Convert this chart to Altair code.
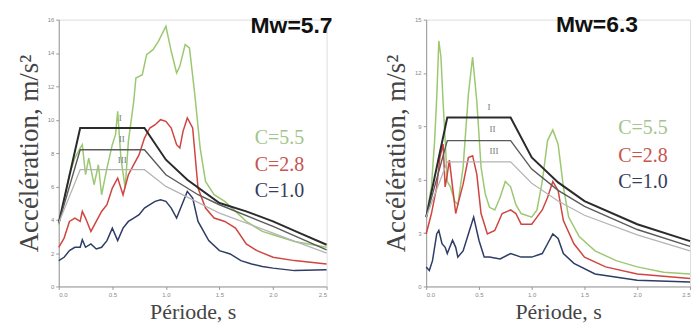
import altair as alt
import pandas as pd

# ---------------- Data: Mw = 5.7 (left panel) ----------------
L_green_T = [0, 0.1, 0.15, 0.2, 0.22, 0.25, 0.28, 0.33, 0.37, 0.4, 0.45, 0.5, 0.53, 0.55, 0.58, 0.62, 0.65, 0.7, 0.72,
             0.78, 0.82, 0.88, 0.93, 1.0, 1.05, 1.1, 1.13, 1.18, 1.22, 1.27, 1.32, 1.37, 1.45, 1.55, 1.65, 1.75, 1.9,
             2.0, 2.2, 2.5]
L_green_A = [3.7, 6.7, 7.7, 8.3, 8.5, 6.7, 7.7, 6.1, 7.3, 5.5, 7.1, 8.5, 9.1, 10.5, 7.7, 5.9, 8.7, 11.1, 12.5,
             12.7, 13.9, 14.2, 14.7, 15.6, 14.1, 12.8, 13.2, 14.5, 14.3, 11.5, 8.3, 6.3, 5.5, 5.1, 4.5, 3.9, 3.3,
             3.1, 2.7, 2.35]
L_red_T = [0, 0.05, 0.1, 0.15, 0.2, 0.22, 0.25, 0.3, 0.35, 0.4, 0.45, 0.5, 0.55, 0.6, 0.65, 0.7, 0.75, 0.8, 0.85,
           0.9, 0.95, 1.0, 1.05, 1.1, 1.13, 1.16, 1.2, 1.25, 1.3, 1.37, 1.45, 1.55, 1.65, 1.75, 1.85, 2.0, 2.2, 2.5]
L_red_A = [2.35, 2.9, 3.9, 4.1, 3.9, 4.5, 4.1, 3.3, 3.9, 4.5, 4.9, 5.9, 6.5, 5.5, 6.7, 7.3, 7.9, 8.9, 9.5,
           9.7, 10.0, 9.9, 9.5, 8.5, 8.3, 9.3, 10.1, 9.5, 5.9, 4.7, 4.1, 3.9, 3.5, 2.55, 2.15, 1.75, 1.55, 1.35]
L_blue_T = [0, 0.05, 0.1, 0.15, 0.2, 0.22, 0.25, 0.3, 0.35, 0.4, 0.45, 0.5, 0.55, 0.6, 0.65, 0.7, 0.75, 0.8, 0.85,
            0.9, 0.95, 1.0, 1.05, 1.1, 1.15, 1.2, 1.25, 1.3, 1.4, 1.5, 1.6, 1.7, 1.8, 1.9, 2.0, 2.2, 2.5]
L_blue_A = [1.55, 1.75, 2.15, 2.35, 2.35, 2.8, 2.35, 2.55, 2.25, 2.35, 2.75, 3.5, 2.75, 3.5, 3.9, 4.1, 4.3, 4.7, 4.9,
            5.1, 5.2, 5.1, 4.7, 4.1, 4.9, 5.7, 5.3, 3.9, 2.75, 2.15, 1.95, 1.55, 1.35, 1.2, 1.1, 0.95, 1.0]

L_I_T = [0, 0.2, 0.8, 1.0, 1.2, 1.5, 1.75, 2.0, 2.25, 2.5]
L_I_A = [3.8, 9.5, 9.5, 7.6, 6.4, 5.0, 4.5, 3.9, 3.2, 2.5]
L_II_T = [0, 0.2, 0.8, 1.0, 1.3, 1.5, 2.0, 2.5]
L_II_A = [3.8, 8.2, 8.2, 6.7, 5.5, 4.9, 3.6, 2.2]
L_III_T = [0, 0.2, 0.8, 1.0, 1.5, 2.0, 2.5]
L_III_A = [3.8, 7.0, 7.0, 6.0, 4.4, 3.2, 2.0]

# ---------------- Data: Mw = 6.3 (right panel) ----------------
R_green_T = [0, 0.05, 0.08, 0.1, 0.12, 0.14, 0.16, 0.18, 0.2, 0.23, 0.27, 0.3, 0.35, 0.4, 0.44, 0.48, 0.52, 0.56,
             0.6, 0.65, 0.7, 0.75, 0.8, 0.85, 0.9, 1.0, 1.05, 1.1, 1.15, 1.2, 1.25, 1.3, 1.35, 1.45, 1.6, 1.8, 2.0,
             2.25, 2.5]
R_green_A = [3.9, 5.6, 8.2, 10.6, 13.8, 12.9, 10.4, 8.2, 5.9, 5.6, 4.8, 4.6, 6.7, 10.8, 12.9, 10.4, 6.7, 5.2,
             4.45, 4.3, 5.0, 5.9, 5.6, 4.6, 4.1, 3.9, 4.3, 5.9, 8.2, 8.8, 8.0, 5.6, 3.9, 2.8, 2.0, 1.45, 1.1,
             0.8, 0.7]
R_red_T = [0, 0.05, 0.1, 0.13, 0.16, 0.18, 0.2, 0.22, 0.25, 0.28, 0.3, 0.35, 0.4, 0.44, 0.48, 0.52, 0.58, 0.65,
           0.72, 0.8, 0.85, 0.9, 1.0, 1.05, 1.1, 1.15, 1.2, 1.25, 1.3, 1.4, 1.5, 1.7, 2.0, 2.5]
R_red_A = [2.95, 4.1, 5.6, 7.25, 8.0, 5.6, 6.3, 7.1, 5.6, 4.1, 4.6, 5.75, 7.25, 7.35, 6.3, 4.1, 2.95, 3.15,
           4.1, 4.3, 4.1, 3.5, 3.5, 3.9, 4.3, 5.0, 5.9, 5.4, 3.7, 2.4, 1.65, 1.1, 0.7, 0.45]
R_blue_T = [0, 0.03, 0.06, 0.1, 0.12, 0.15, 0.18, 0.2, 0.25, 0.28, 0.3, 0.35, 0.4, 0.45, 0.5, 0.55, 0.6, 0.7,
            0.8, 0.9, 1.0, 1.1, 1.15, 1.2, 1.25, 1.3, 1.4, 1.6, 2.0, 2.5]
R_blue_A = [1.1, 0.9, 1.45, 2.95, 3.15, 2.4, 2.2, 1.85, 2.6, 2.2, 1.65, 2.0, 2.95, 3.9, 2.6, 1.65, 1.65, 1.55,
            1.85, 1.65, 1.65, 1.85, 2.4, 2.95, 2.7, 1.85, 1.3, 0.7, 0.35, 0.25]

R_I_T = [0, 0.2, 0.8, 1.0, 1.25, 1.5, 2.0, 2.5]
R_I_A = [3.9, 9.5, 9.5, 7.25, 5.85, 4.8, 3.5, 2.55]
R_II_T = [0, 0.2, 0.8, 1.0, 1.25, 1.5, 2.0, 2.5]
R_II_A = [3.9, 8.2, 8.2, 6.6, 5.4, 4.5, 3.2, 2.25]
R_III_T = [0, 0.2, 0.8, 1.0, 1.25, 1.5, 2.0, 2.5]
R_III_A = [3.9, 7.0, 7.0, 5.8, 4.8, 4.0, 2.9, 2.0]

series_names = ["C=5.5", "C=2.8", "C=1.0"]
series_colors = ["#9cc872", "#cf4540", "#2e3c66"]
legend_colors = ["#a2c58a", "#c8544f", "#363c5c"]
design_names = ["I", "II", "III"]
design_colors = ["#2b2b2b", "#5a5a5a", "#b4b4b4"]
design_widths = [2.0, 1.4, 1.2]

x_ticks = [0, 0.5, 1.0, 1.5, 2.0, 2.5]


def long(pairs, names):
    rows = []
    for (ts, vs), n in zip(pairs, names):
        for t, v in zip(ts, vs):
            rows.append({"T": t, "A": v, "s": n})
    return pd.DataFrame(rows)


def panel(curves, designs, ymax, yticks, w, mw_text, mw_pos, legend_y, roman_pos, legend_x):
    dfc = long(curves, series_names)
    dfd = long(designs, design_names)
    xs = alt.Scale(domain=[0, 2.5], nice=False)
    ys = alt.Scale(domain=[0, ymax], nice=False)
    xax = alt.Axis(values=x_ticks, format=".1f", title="Période, s", grid=False, labelOverlap=False,
                   labelFontSize=6, labelColor="#888", tickColor="#999", domainColor="#999",
                   tickSize=3, titleFont="Liberation Serif", titleFontSize=22, titleFontWeight="normal",
                   titleColor="#444", titlePadding=4)
    yax = alt.Axis(values=yticks, format="d", title="Accélération, m/s²", grid=False, labelOverlap=False,
                   labelFontSize=6, labelColor="#888", tickColor="#999", domainColor="#999",
                   tickSize=3, titleFont="Liberation Serif", titleFontSize=27, titleFontWeight="normal",
                   titleColor="#444", titlePadding=4)
    X = alt.X("T:Q", scale=xs, axis=xax)
    Y = alt.Y("A:Q", scale=ys, axis=yax)
    base_curves = alt.Chart(dfc).mark_line(strokeWidth=1.5, interpolate="linear").encode(
        x=X, y=Y,
        color=alt.Color("s:N", scale=alt.Scale(domain=series_names, range=series_colors), legend=None),
        detail="s:N",
    )
    layers = [base_curves]
    for n, c, sw in zip(design_names, design_colors, design_widths):
        d = dfd[dfd["s"] == n]
        layers.append(alt.Chart(d).mark_line(strokeWidth=sw, color=c).encode(x=X, y=Y))
    # roman labels
    rdf = pd.DataFrame({"T": [p[0] for p in roman_pos], "A": [p[1] for p in roman_pos], "t": design_names})
    layers.append(alt.Chart(rdf).mark_text(font="Liberation Serif", fontSize=9, color="#777", align="left",
                                           baseline="middle").encode(x=X, y=Y, text="t:N"))
    # legend texts
    ldf = pd.DataFrame({"T": [legend_x] * 3, "A": legend_y, "t": series_names})
    layers.append(alt.Chart(ldf).mark_text(font="Liberation Serif", fontSize=20, align="left",
                                           baseline="middle").encode(
        x=X, y=Y, text="t:N",
        color=alt.Color("t:N", scale=alt.Scale(domain=series_names, range=legend_colors), legend=None)))
    mdf = pd.DataFrame({"T": [mw_pos[0]], "A": [mw_pos[1]], "t": [mw_text]})
    layers.append(alt.Chart(mdf).mark_text(font="Liberation Sans", fontSize=23, fontWeight="bold", color="#111",
                                           align="left", baseline="middle").encode(x=X, y=Y, text="t:N"))
    return alt.layer(*layers).resolve_scale(color="independent").properties(width=w, height=268)


left = panel(
    [(L_green_T, L_green_A), (L_red_T, L_red_A), (L_blue_T, L_blue_A)],
    [(L_I_T, L_I_A), (L_II_T, L_II_A), (L_III_T, L_III_A)],
    16, [0, 2, 4, 6, 8, 10, 12, 14, 16], 269, "Mw=5.7", (1.79, 15.6), [8.9, 7.3, 5.7],
    [(0.56, 10.1), (0.56, 8.85), (0.55, 7.6)], 1.83)
right = panel(
    [(R_green_T, R_green_A), (R_red_T, R_red_A), (R_blue_T, R_blue_A)],
    [(R_I_T, R_I_A), (R_II_T, R_II_A), (R_III_T, R_III_A)],
    15, [0, 3, 6, 9, 12, 15], 265, "Mw=6.3", (1.23, 14.7), [8.9, 7.35, 5.85],
    [(0.58, 10.1), (0.6, 8.85), (0.6, 7.6)], 1.82)

chart = alt.hconcat(left, right, spacing=48).resolve_scale(color="independent", x="independent",
                                                           y="independent").properties(
    padding={"left": 14, "top": 12, "right": 2, "bottom": 0}
).configure_view(stroke=None).configure(background="white")

chart.save("out.html", embed_options={"renderer": "svg", "actions": False})
